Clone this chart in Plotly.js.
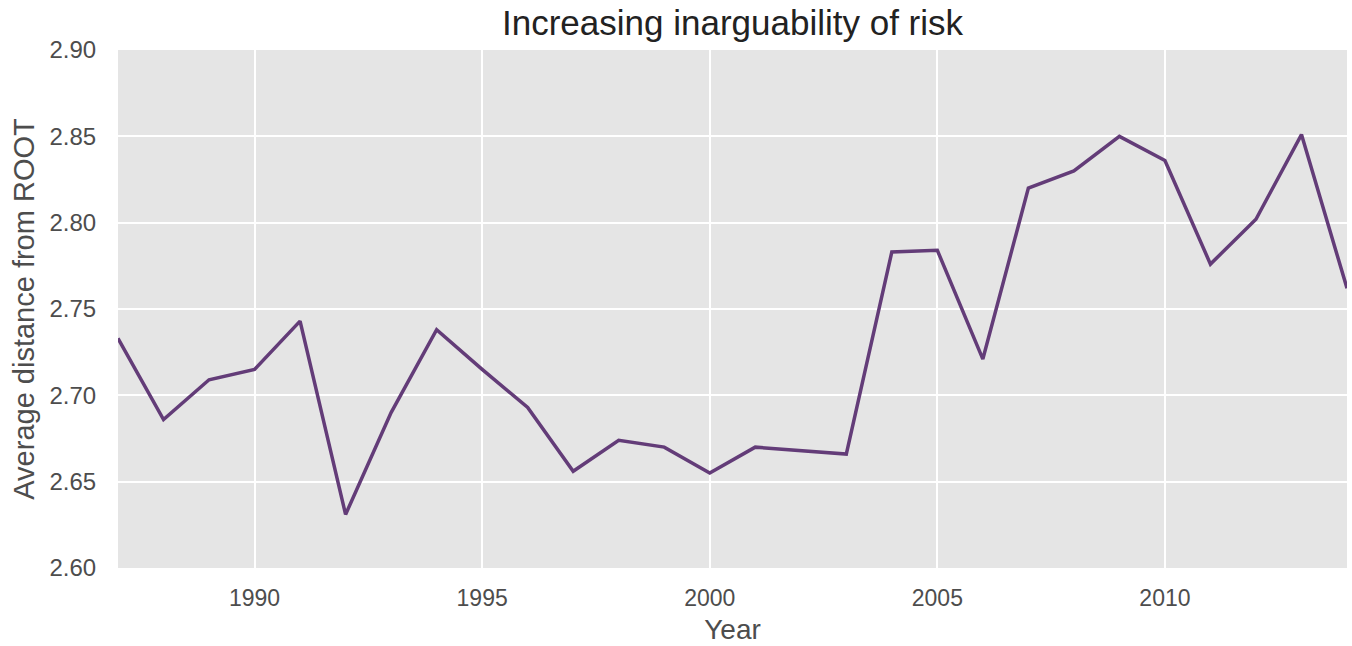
<!DOCTYPE html>
<html>
<head>
<meta charset="utf-8">
<script src="https://cdn.plot.ly/plotly-3.0.1.min.js"></script>
<style>html,body{margin:0;padding:0;background:#fff;}#chart{width:1352px;height:646px;}</style>
</head>
<body>
<div id="chart"></div>
<script>
const years = [1987,1988,1989,1990,1991,1992,1993,1994,1995,1996,1997,1998,1999,2000,2001,2002,2003,2004,2005,2006,2007,2008,2009,2010,2011,2012,2013,2014];
const avgDistance = [2.733,2.686,2.709,2.715,2.743,2.631,2.690,2.738,2.715,2.693,2.656,2.674,2.670,2.655,2.670,2.668,2.666,2.783,2.784,2.721,2.820,2.830,2.850,2.836,2.776,2.802,2.851,2.762];
const yTicks = [2.60,2.65,2.70,2.75,2.80,2.85,2.90];
const yTickLabels = ['2.60','2.65','2.70','2.75','2.80','2.85','2.90'];
const xTicks = [1990,1995,2000,2005,2010];

const font = "'Liberation Sans', Arial, Helvetica, sans-serif";
Plotly.newPlot('chart', [{
  x: years, y: avgDistance, type: 'scatter', mode: 'lines',
  line: {color: '#633c78', width: 3.5}, hoverinfo: 'x+y', showlegend: false
}], {
  width: 1352, height: 646,
  margin: {l: 118, r: 5, t: 50, b: 78, pad: 0},
  paper_bgcolor: '#ffffff', plot_bgcolor: '#e5e5e5',
  font: {family: font, color: '#4d4d4d'},
  title: {text: 'Increasing inarguability of risk', font: {size: 35, color: '#222222', family: font},
          x: 0.5, xref: 'paper', xanchor: 'center', y: 0.965, yref: 'container', yanchor: 'middle'},
  xaxis: {
    range: [1987, 2014], tickvals: xTicks, ticktext: xTicks.map(String),
    showgrid: true, gridcolor: '#ffffff', gridwidth: 2, zeroline: false, showline: false,
    ticks: 'outside', ticklen: 9, tickcolor: 'rgba(0,0,0,0)',
    tickfont: {size: 23, color: '#4d4d4d'},
    title: {text: 'Year', font: {size: 28, color: '#4d4d4d'}, standoff: 9}
  },
  yaxis: {
    range: [2.60, 2.90], tickvals: yTicks, ticktext: yTickLabels,
    showgrid: true, gridcolor: '#ffffff', gridwidth: 2, zeroline: false, showline: false,
    ticks: 'outside', ticklen: 16, tickcolor: 'rgba(0,0,0,0)',
    tickfont: {size: 24, color: '#4d4d4d'},
    title: {text: 'Average distance from ROOT', font: {size: 29, color: '#4d4d4d'}, standoff: 6}
  }
}, {displayModeBar: false, staticPlot: true});
</script>
</body>
</html>
